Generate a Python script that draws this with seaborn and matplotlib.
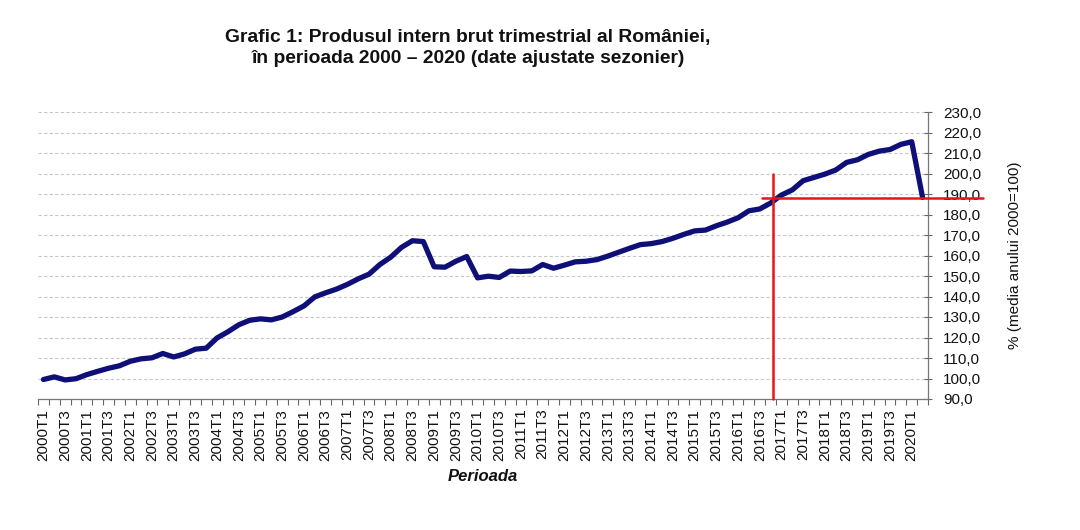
import matplotlib
matplotlib.use("Agg")
import matplotlib.pyplot as plt
import matplotlib.ticker as mticker
import seaborn as sns
import numpy as np
import pandas as pd

# ---------------- data ----------------
years = list(range(2000, 2021))
quarters = [f"{y}T{q}" for y in years for q in (1, 2, 3, 4)][:82]   # 2000T1 .. 2020T2
gdp_index = [
    99.5, 100.8, 99.3, 99.9, 101.9, 103.5, 105.0, 106.2,
    108.4, 109.6, 110.1, 112.2, 110.5, 112.0, 114.3, 114.8,
    119.8, 122.8, 126.2, 128.4, 129.1, 128.6, 130.0, 132.6,
    135.4, 139.8, 141.8, 143.6, 145.9, 148.6, 150.9, 155.6,
    159.2, 164.0, 167.2, 166.8, 154.5, 154.3, 157.2, 159.5,
    149.1, 149.9, 149.3, 152.4, 152.2, 152.5, 155.6, 153.8,
    155.3, 156.9, 157.2, 158.0, 159.7, 161.6, 163.5, 165.3,
    165.8, 166.8, 168.4, 170.3, 172.0, 172.4, 174.5, 176.3,
    178.4, 181.8, 182.7, 185.6, 189.5, 192.0, 196.5, 198.1,
    199.7, 201.7, 205.4, 206.7, 209.3, 210.9, 211.7, 214.2,
    215.5, 188.3,
]
y_ticks = [90, 100, 110, 120, 130, 140, 150, 160, 170, 180, 190, 200, 210, 220, 230]
x_tick_labels = quarters[::2]

title = "Grafic 1: Produsul intern brut trimestrial al României,\nîn perioada 2000 – 2020 (date ajustate sezonier)"
x_label = "Perioada"
y_label = "% (media anului 2000=100)"

# red reference lines (annotation positions in data units)
ref_level = 188.0
ref_quarter = 67.25

df = pd.DataFrame({"pos": np.arange(len(quarters)), "quarter": quarters, "value": gdp_index})

# ---------------- style ----------------
sns.set_theme(style="white")
plt.rcParams["font.family"] = ["Liberation Sans", "DejaVu Sans"]

fig = plt.figure(figsize=(10.8, 5.3), dpi=100)
ax = fig.add_axes([38 / 1080, 1 - 399 / 530, (928 - 38) / 1080, (399 - 112) / 530])

sns.lineplot(data=df, x="pos", y="value", ax=ax, color="#0f0f78", linewidth=3.8,
             solid_joinstyle="round", solid_capstyle="round", zorder=3)

ax.set_xlim(-0.5, len(quarters) - 0.5)
ax.set_ylim(y_ticks[0], y_ticks[-1])

# y axis on right
ax.yaxis.tick_right()
ax.yaxis.set_label_position("right")
ax.set_yticks(y_ticks)
ax.yaxis.set_major_formatter(mticker.FuncFormatter(lambda v, p: f"{v:.1f}".replace(".", ",")))
ax.tick_params(axis="y", which="major", direction="inout", length=6, width=0.8,
               color="#666666", labelsize=11, pad=8, labelcolor="#111111")
ax.set_ylabel(y_label, fontsize=11, labelpad=19, rotation=90, color="#111111")

# x axis
ax.set_xticks(np.arange(0, len(quarters), 2))
ax.set_xticklabels(x_tick_labels, rotation=90, fontsize=11, color="#111111")
ax.set_xticks(np.arange(-0.5, len(quarters), 1), minor=True)
ax.tick_params(axis="x", which="major", length=0, pad=7)
ax.tick_params(axis="x", which="minor", direction="out", length=4, width=0.8, color="#666666",
               bottom=True)
ax.set_xlabel(x_label, fontsize=12, fontweight="bold", fontstyle="italic", labelpad=6,
              color="#111111")

# grid
ax.yaxis.grid(True, linestyle=(0, (3, 2)), color="#c8c8c8", linewidth=0.8)
ax.xaxis.grid(False)

for side in ("top", "left"):
    ax.spines[side].set_visible(False)
for side in ("bottom", "right"):
    ax.spines[side].set_visible(True)
    ax.spines[side].set_color("#777777")
    ax.spines[side].set_linewidth(0.9)

# red reference lines
ax.plot([ref_quarter, ref_quarter], [y_ticks[0], 200], color="#e8141c", linewidth=1.8,
        zorder=4, clip_on=False)
ax.plot([66.2, 86.6], [ref_level, ref_level], color="#e8141c", linewidth=1.8,
        zorder=5, clip_on=False)

fig.suptitle(title, x=468 / 1080, y=1 - 29 / 530, fontsize=13.9, fontweight="bold",
             color="#111111", linespacing=1.28, va="top")

fig.savefig("out.png", dpi=100)
